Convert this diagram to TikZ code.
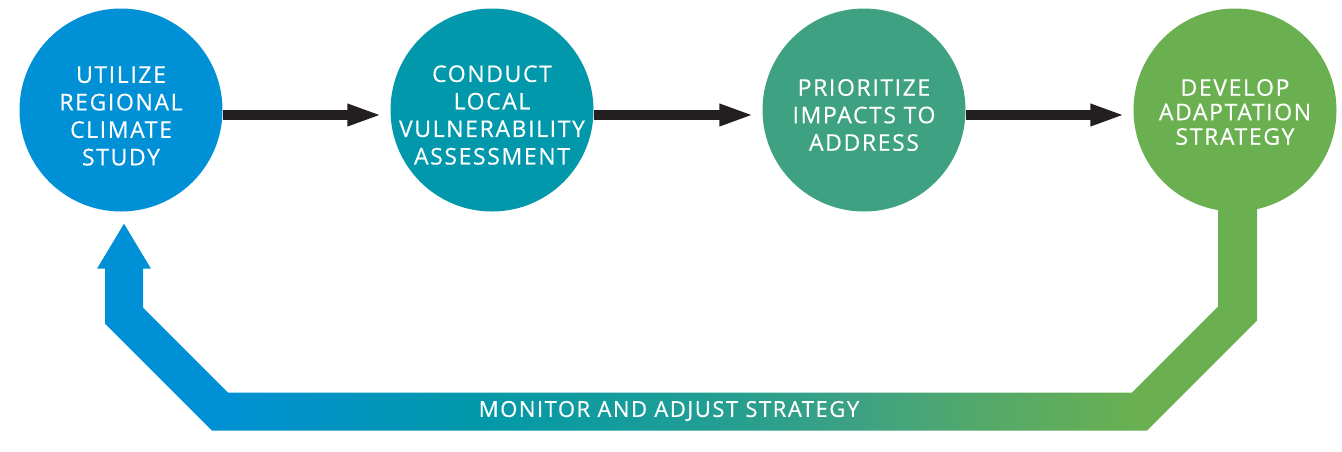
\documentclass[tikz,border=0pt]{standalone}
\usepackage{fontspec}
\usetikzlibrary{arrows.meta,backgrounds}
\newfontfamily\stepfont[LetterSpace=7,FakeBold=0.4]{Open Sans}
\definecolor{utilizeblue}{RGB}{0,144,214}
\definecolor{conductteal}{RGB}{0,152,170}
\definecolor{midteal}{RGB}{32,158,148}
\definecolor{prioritizegreen}{RGB}{62,162,130}
\definecolor{midgreen}{RGB}{86,170,102}
\definecolor{developgreen}{RGB}{106,176,80}
\definecolor{arrowblack}{RGB}{35,31,32}
\pgfdeclarehorizontalshading{monitorshade}{100bp}{color(0bp)=(utilizeblue); color(30bp)=(utilizeblue); color(41bp)=(conductteal); color(51bp)=(midteal); color(58bp)=(prioritizegreen); color(64bp)=(midgreen); color(70bp)=(developgreen); color(100bp)=(developgreen)}
\tikzset{
  stepcircle/.style={circle, minimum size=203pt, inner sep=0pt},
  steptext/.style={font=\stepfont\fontsize{23pt}{#1}\selectfont, text=white, align=center, inner sep=0pt},
  steptext/.default=27.5pt,
  flowarrow/.style={line width=10pt, arrowblack, -{Triangle[length=35pt,width=20pt]}, shorten >=8pt},
}
\begin{document}
\begin{tikzpicture}[x=1pt,y=-1pt]
\useasboundingbox (0,0) rectangle (1342,451);
\node[stepcircle, fill=utilizeblue, label={[steptext, yshift=-6pt]center:{UTILIZE\\REGIONAL\\CLIMATE\\STUDY}}] (utilize) at (121,110) {};
\node[stepcircle, fill=conductteal, label={[steptext, yshift=-5pt]center:{CONDUCT\\LOCAL\\VULNERABILITY\\ASSESSMENT}}] (conduct) at (492,110) {};
\node[stepcircle, fill=prioritizegreen, label={[steptext, yshift=-5pt]center:{PRIORITIZE\\IMPACTS TO\\ADDRESS}}] (prioritize) at (864,110) {};
\node[stepcircle, fill=developgreen, label={[steptext=24.5pt, yshift=-2pt]center:{DEVELOP\\ADAPTATION\\STRATEGY}}] (develop) at (1235,110) {};
% black arrows between the steps
\foreach \a/\b in {utilize/conduct, conduct/prioritize, prioritize/develop}
  \draw[flowarrow] ([yshift=-5pt]\a.east) -- ([yshift=-5pt]\b.west);
% feedback band back to the first step
\begin{pgfonlayer}{background}
\shade[shading=monitorshade] ([xshift=3pt,yshift=-12pt]utilize.south) --++(27,45)--++(-8,0)--++(0,39)--++(85,85)--++(904,0)--++(86,-86)--++(0,-106)--++(39,0)--++(0,120)--++(-110,110)--++(-935,0)--++(-107,-107)--++(0,-55)--++(-8,0)--cycle;
\end{pgfonlayer}
\node[steptext, font=\stepfont\fontsize{22pt}{26pt}\selectfont] (monitor) at (669,411) {MONITOR AND ADJUST STRATEGY};
\end{tikzpicture}
\end{document}
